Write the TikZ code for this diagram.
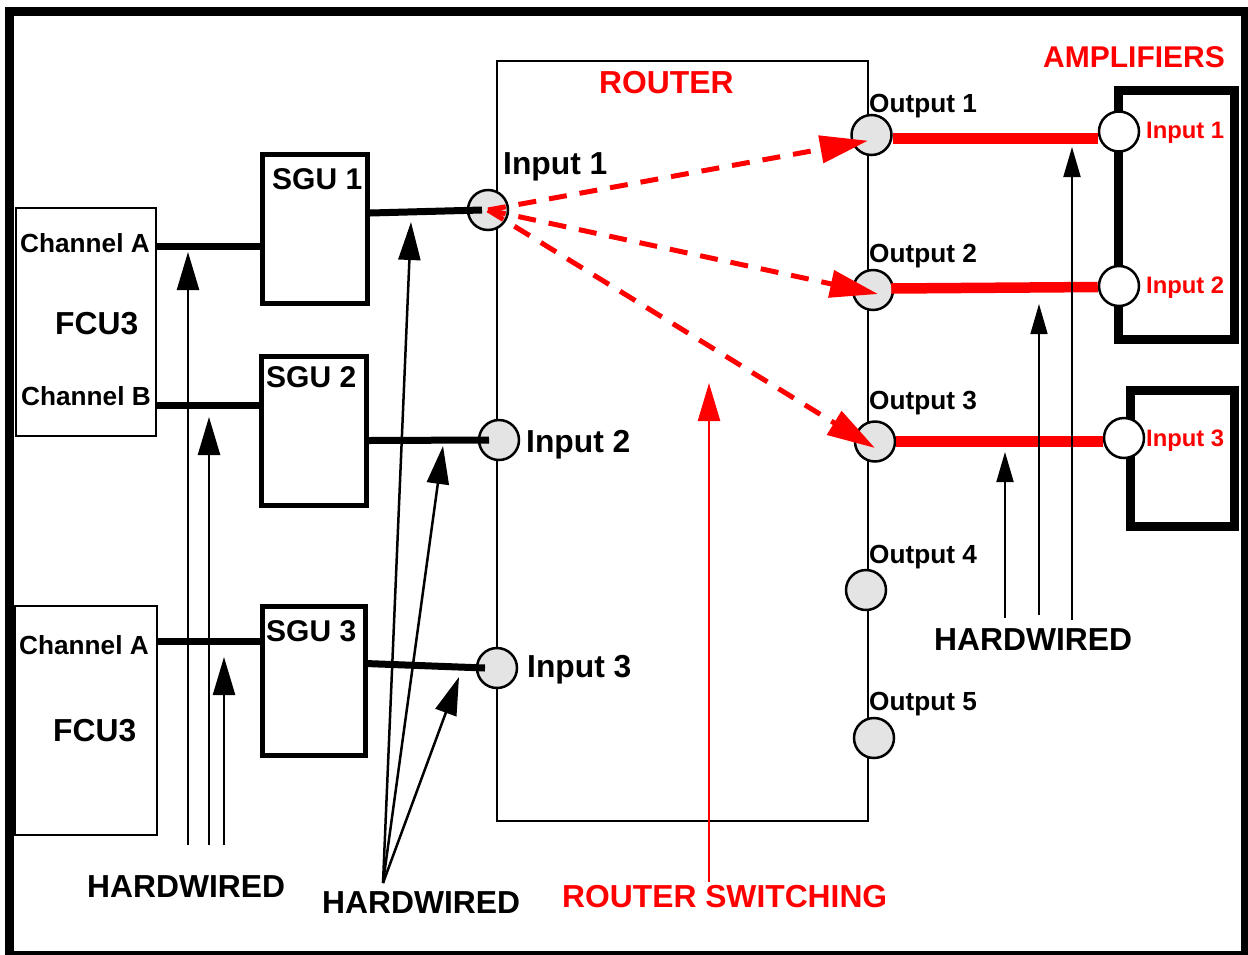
\documentclass[tikz,border=0pt]{standalone}
\usepackage{fontspec}
\setmainfont{Liberation Sans}
\usetikzlibrary{arrows.meta,positioning,calc}
\definecolor{sig}{HTML}{FF0000}
\definecolor{portgray}{HTML}{E4E4E4}
\newcommand{\bigtxt}{\fontsize{31.8}{31.8}\selectfont\bfseries}
\newcommand{\boxtxt}{\fontsize{30}{30}\selectfont\bfseries}
\newcommand{\midtxt}{\fontsize{26.2}{26.2}\selectfont\bfseries}
\newcommand{\smalltxt}{\fontsize{23.8}{23.8}\selectfont\bfseries}
\tikzset{
  thinbox/.style={draw,line width=2pt,inner sep=0pt},
  sgubox/.style={draw,line width=5pt,inner sep=0pt,minimum width=105pt,minimum height=149pt},
  ampbox/.style={draw,line width=9pt,inner sep=0pt},
  port/.style={circle,draw,line width=2.5pt,fill=portgray,minimum size=40pt,inner sep=0pt},
  ampport/.style={port,fill=white},
  wire/.style={line width=7pt},
  route/.style={sig,line width=10.5pt},
  switch/.style={sig,line width=5pt,dash pattern=on 18pt off 13pt,
                 -{Triangle[length=48pt,width=27pt]}},
  hw/.style={line width=2.5pt,-{Triangle[length=38pt,width=22pt]}},
  hwthin/.style={line width=2pt,-{Triangle[length=30pt,width=17pt]}},
  txt/.style={anchor=base west,inner sep=0pt},
}
\begin{document}
\begin{tikzpicture}[x=1pt,y=-1pt]
  \useasboundingbox (0,0) rectangle (1248,954);
  \draw[line width=9pt] (9.5,11.5) rectangle (1245.5,955.5);
  % boxes
  \node[draw,line width=2.5pt,inner sep=0pt,minimum width=371pt,minimum height=760pt] (router) at (682.5,441) {};
  \node[thinbox,minimum width=140pt,minimum height=228pt] (fcu1) at (86,322) {};
  \node[thinbox,minimum width=142pt,minimum height=229pt] (fcu2) at (86,720.5) {};
  \node[sgubox] (sgu1) at (315,229) {};
  \node[sgubox] (sgu2) at (314,430.5) {};
  \node[sgubox,minimum width=103pt] (sgu3) at (313.5,681) {};
  \node[ampbox,minimum width=115.5pt,minimum height=249.5pt] (amp1) at (1176.25,214.75) {};
  \node[ampbox,minimum width=103.5pt,minimum height=136pt] (amp2) at (1182.25,458) {};
  % ports
  \node[port] (in1) at (488,210) {};
  \node[port] (in2) at (499,440) {};
  \node[port] (in3) at (497,668) {};
  \node[port] (out1) at (871.5,135) {};
  \node[port] (out2) at (873,290) {};
  \node[port] (out3) at (875,441.5) {};
  \node[port] (out4) at (866,590) {};
  \node[port] (out5) at (874,738) {};
  \node[ampport] (ain1) at (1119,131.5) {};
  \node[ampport] (ain2) at (1119,286) {};
  \node[ampport] (ain3) at (1124,438) {};
  % hard wiring
  \draw[wire] (fcu1.east |- 0,246.5) -- ([xshift=3pt]sgu1.west |- 0,246.5);
  \draw[wire] (fcu1.east |- 0,405) -- (sgu2.west |- 0,405);
  \draw[wire] (fcu2.east |- 0,641) -- (sgu3.west |- 0,641);
  \draw[wire] (sgu1.east |- 0,213) -- ([xshift=-6pt]in1.center);
  \draw[wire] (sgu2.east |- 0,440.5) -- ([xshift=-10pt]in2.center);
  \draw[wire] ([xshift=-2pt]sgu3.east |- 0,663.5) -- ([xshift=-12pt]in3.center);
  \draw[route] (out1.east |- 0,138.5) -- (ain1.west |- 0,138.5);
  \draw[route] ([xshift=-3pt]out2.east |- 0,288.5) -- (ain2.west |- 0,287);
  \draw[route] (out3.east |- 0,441.5) -- (ain3.west |- 0,441.5);
  % switching inside the router
  \draw[switch] (in1.center) -- ($(out1.center)+(-3.5,5.7)$);
  \draw[switch] (in1.center) -- ($(out2.center)+(5,4)$);
  \draw[switch] (in1.center) -- ($(out3.center)+(0,6.5)$);
  % pointers
  \coordinate (fan) at (383,883);
  \foreach \x/\ty in {188/252,209/417,224/657}
    \draw[hw] (\x,845) -- (\x,\ty);
  \draw[hw] (fan) -- (411,222);
  \draw[hw] (fan) -- (443,446);
  \draw[hw] (fan) -- (459,677);
  \draw[hw,sig] (709,882) -- (709,383);
  \draw[hwthin] (1005,618) -- (1005,452);
  \draw[hwthin,line width=1.5pt] (1039,615) -- (1039,304);
  \draw[hwthin] (1072,620) -- (1072,147);
  % labels
  \node[txt,font=\boxtxt] at (272,189) {SGU 1};
  \node[txt,font=\boxtxt] at (266,387) {SGU 2};
  \node[txt,font=\boxtxt] at (266,641) {SGU 3};
  \node[txt,font=\midtxt] at (20,252) {Channel A};
  \node[txt,font=\bigtxt] at (55,334) {FCU3};
  \node[txt,font=\midtxt] at (21,405) {Channel B};
  \node[txt,font=\midtxt] at (19,654) {Channel A};
  \node[txt,font=\bigtxt] at (53,741) {FCU3};
  \node[txt,font=\bigtxt] at (503,174) {Input 1};
  \node[txt,font=\bigtxt] at (526,452) {Input 2};
  \node[txt,font=\bigtxt] at (527,677) {Input 3};
  \node[txt,font=\bigtxt,text=sig] at (599,93) {ROUTER};
  \foreach \n/\y in {1/112,2/262,3/409,4/563,5/710}
    \node[txt,font=\midtxt] at (869,\y) {Output \n};
  \node[txt,font=\boxtxt,text=sig] at (1043,67) {AMPLIFIERS};
  \node[txt,font=\smalltxt,text=sig] at (1146,138) {Input 1};
  \node[txt,font=\smalltxt,text=sig] at (1146,293) {Input 2};
  \node[txt,font=\smalltxt,text=sig] at (1146,446) {Input 3};
  \node[txt,font=\bigtxt] at (87,897) {HARDWIRED};
  \node[txt,font=\bigtxt] at (322,913) {HARDWIRED};
  \node[txt,font=\bigtxt] at (934,650) {HARDWIRED};
  \node[txt,font=\bigtxt,text=sig] at (562,907) {ROUTER SWITCHING};
\end{tikzpicture}
\end{document}
